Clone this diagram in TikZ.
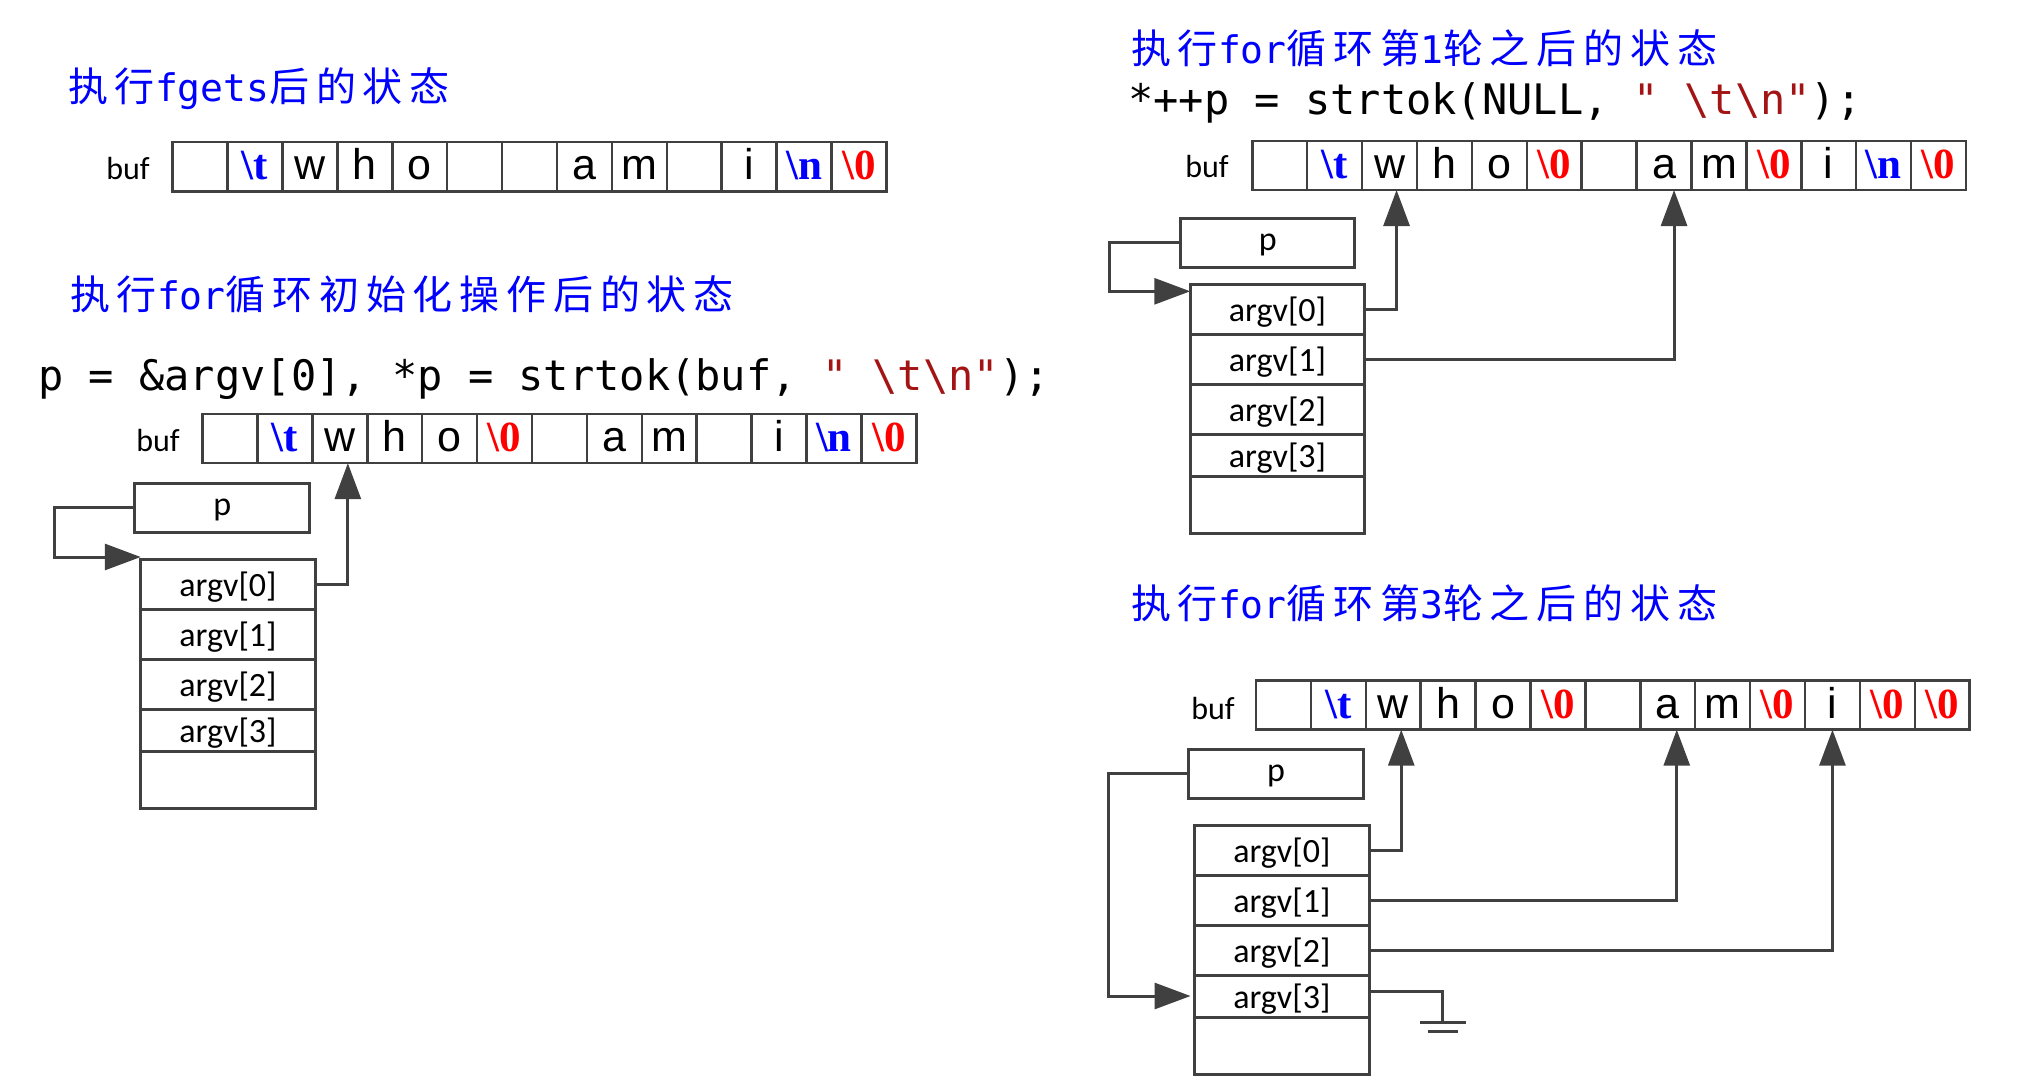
\documentclass[tikz,border=0pt]{standalone}
\usepackage{fontspec}
\setmainfont{Carlito}
\newfontfamily\cjk[LetterSpace=17]{Noto Sans CJK SC}
\newfontfamily\codefont{DejaVu Sans Mono}
\newfontfamily\cellfont{Liberation Sans}
\newfontfamily\escfont{Liberation Serif}
\usetikzlibrary{positioning,arrows.meta}
\definecolor{linegray}{RGB}{64,64,64}
\definecolor{strred}{RGB}{163,21,21}
\newcommand{\escT}{{\escfont\bfseries\color{blue}\textbackslash t}}
\newcommand{\escN}{{\escfont\bfseries\color{blue}\textbackslash n}}
\newcommand{\escZ}{{\escfont\bfseries\color{red}\textbackslash 0}}
\newcommand{\titlelatin}[1]{{\codefont\fontsize{38}{46}\selectfont #1}}

\begin{document}
\begin{tikzpicture}[x=1pt,y=-1pt,
	cell/.style={draw=linegray, line width=2.5pt, minimum width=54.9pt, minimum height=49pt,
		inner sep=0pt, outer sep=0pt, text height=26pt, text depth=0pt,
		font=\cellfont\fontsize{43}{50}\selectfont},
	buflabel/.style={anchor=base, font=\fontsize{32}{38}\selectfont},
	pbox/.style={draw=linegray, line width=3pt, minimum width=174.5pt, minimum height=49pt,
		inner sep=0pt, outer sep=0pt, text height=15pt, text depth=0pt,
		font=\fontsize{34}{40}\selectfont},
	argvrow/.style={draw=linegray, line width=3pt, minimum width=174.5pt, minimum height=50pt,
		inner sep=0pt, outer sep=0pt, text height=25pt, text depth=0pt,
		font=\fontsize{34}{40}\selectfont},
	title/.style={anchor=base west, inner sep=0pt, text=blue, font=\cjk\fontsize{40}{48}\selectfont},
	code/.style={anchor=base west, inner sep=0pt, font=\codefont\fontsize{42}{50}\selectfont},
	conn/.style={draw=linegray, line width=3pt},
	ptr/.style={conn, -{Triangle[length=36pt,width=26pt]}}]
	\useasboundingbox (0,0) rectangle (2031,1089);

	% titles and code lines
	\node[title] (titleA) at (68,102) {执行\titlelatin{fgets}后的状态};
	\node[title] (titleB) at (70,309) {执行\titlelatin{for}循环初始化操作后的状态};
	\node[title] (titleC) at (1131,64) {执行\titlelatin{for}循环第\titlelatin{1}轮之后的状态};
	\node[title] (titleD) at (1131,618) {执行\titlelatin{for}循环第\titlelatin{3}轮之后的状态};
	\node[code] (codeB) at (38,390) {p = \&argv[0], *p = strtok(buf, \textcolor{strred}{" \textbackslash t\textbackslash n"});};
	\node[code] (codeC) at (1128,114) {*++p = strtok(NULL, \textcolor{strred}{" \textbackslash t\textbackslash n"});};

	% buf arrays
	\node[buflabel] (labA) at (128,179) {buf};
	\foreach \ch [count=\i from 0] in {{}, \escT, w, h, o, {}, {}, a, m, {}, i, \escN, \escZ}
		\node[cell] (bufA-\i) at ({200.15+54.9*\i},166.75) {\ch};
	\node[buflabel] (labB) at (158,451) {buf};
	\foreach \ch [count=\i from 0] in {{}, \escT, w, h, o, \escZ, {}, a, m, {}, i, \escN, \escZ}
		\node[cell] (bufB-\i) at ({230.05+54.9*\i},438.7) {\ch};
	\node[buflabel] (labC) at (1207,177.5) {buf};
	\foreach \ch [count=\i from 0] in {{}, \escT, w, h, o, \escZ, {}, a, m, \escZ, i, \escN, \escZ}
		\node[cell] (bufC-\i) at ({1279.75+54.9*\i},165.5) {\ch};
	\node[buflabel] (labD) at (1213,719) {buf};
	\foreach \ch [count=\i from 0] in {{}, \escT, w, h, o, \escZ, {}, a, m, \escZ, i, \escZ, \escZ}
		\node[cell] (bufD-\i) at ({1283.45+54.9*\i},705.2) {\ch};

	% p boxes
	\node[pbox] (pA) at (222.2,507.8) {p};
	\node[pbox] (pC) at (1267.7,242.7) {p};
	\node[pbox] (pD) at (1276,773.7) {p};

	% argv stacks
	\foreach \s/\x/\y in {A/228/584, C/1277.5/309.3, D/1281.8/850} {
		\node[argvrow] (argv\s-0) at (\x,\y) {argv[0]};
		\node[argvrow, below=0pt of argv\s-0] (argv\s-1) {argv[1]};
		\node[argvrow, below=0pt of argv\s-1] (argv\s-2) {argv[2]};
		\node[argvrow, below=0pt of argv\s-2, minimum height=42pt] (argv\s-3) {argv[3]};
		\node[argvrow, below=0pt of argv\s-3, minimum height=57pt] (argv\s-4) {};
	}

	% pointers
	\draw[ptr] (pA.west) -- ++(-80,0) |- ([yshift=2pt]argvA-0.north west);
	\draw[ptr] (argvA-0.east) -| ([xshift=8pt]bufB-2.south);

	\draw[ptr] (pC.west) -- ++(-71,0) |- ([yshift=-7pt]argvC-0.north west);
	\draw[ptr] (argvC-0.east) -| ([xshift=7pt]bufC-2.south);
	\draw[ptr] (argvC-1.east) -| ([xshift=10pt]bufC-7.south);

	\draw[ptr] (pD.west) -- ++(-80,0) |- ([xshift=-4pt]argvD-3.west);
	\draw[ptr] (argvD-0.east) -| ([xshift=8pt]bufD-2.south);
	\draw[ptr] (argvD-1.east) -| ([xshift=9pt]bufD-7.south);
	\draw[ptr] (argvD-2.east) -| (bufD-10.south);

	% argv[3] = NULL
	\coordinate (gnd) at (1442.7,1022.3);
	\draw[conn] ([yshift=5pt]argvD-3.east) -| (gnd);
	\draw[conn] ([xshift=-23pt]gnd) -- ([xshift=23pt]gnd);
	\draw[conn] ([xshift=-15pt,yshift=-9.5pt]gnd) -- ([xshift=15pt,yshift=-9.5pt]gnd);
\end{tikzpicture}
\end{document}
